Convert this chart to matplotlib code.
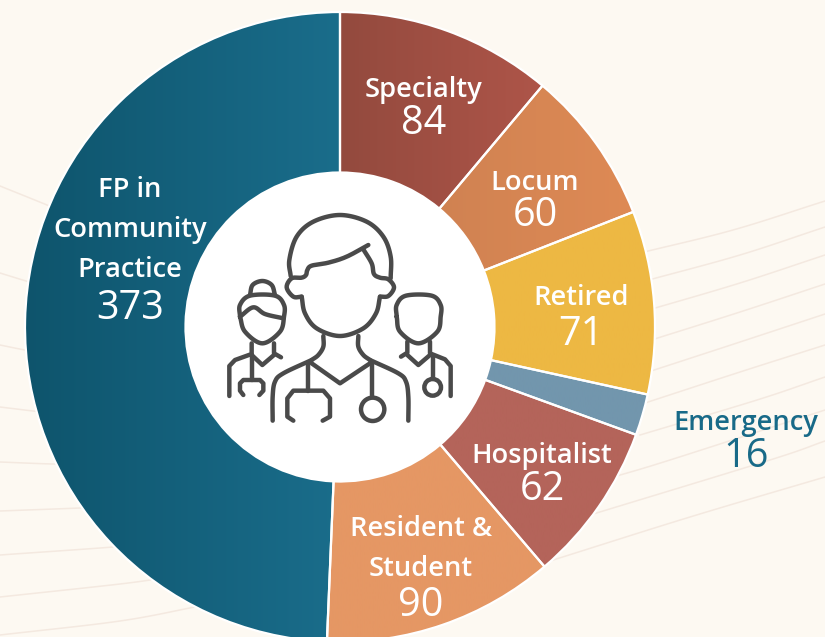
import matplotlib
matplotlib.use('Agg')
import matplotlib.pyplot as plt
import numpy as np
from matplotlib.colors import LinearSegmentedColormap
from matplotlib.patches import Circle

labels = ['Specialty', 'Locum', 'Retired', 'Emergency', 'Hospitalist', 'Resident &\nStudent', 'FP in\nCommunity\nPractice']
values = [84, 60, 71, 16, 62, 90, 373]
left_colors = ['#934a3e', '#c97e50', '#edb843', '#7296ad', '#b4645a', '#e59764', '#0e546c']
right_colors = ['#ae5549', '#de8a55', '#edb843', '#7296ad', '#b4645a', '#e59764', '#1a6d8b']
# baselines of the first label line and of the number
label_pos = [(424, 97), (535, 190), (581, 305), (746, 430), (542, 463), (421, 536), (130, 197)]
value_pos = [(424, 134), (535, 226), (581, 345), (746, 467), (542, 500), (421, 616), (130, 319)]

bg = '#fdf9f2'
white = '#ffffff'
teal = '#186a88'
icon_col = '#4a4a4a'
cx, cy, r_out, r_in = 340, 327, 315, 154.5

fig = plt.figure(figsize=(8.25, 6.37), dpi=100, facecolor=bg)
ax = fig.add_axes([0, 0, 1, 1])
ax.set_facecolor(bg)


def spline(pts, n=14):
    # catmull-rom through the points
    p = np.array(pts, dtype=float)
    p = np.vstack([2 * p[0] - p[1], p, 2 * p[-1] - p[-2]])
    out = []
    for i in range(1, len(p) - 2):
        t = np.linspace(0, 1, n)[:, None]
        a, b, c, d = p[i - 1], p[i], p[i + 1], p[i + 2]
        out.append(0.5 * (2 * b + (c - a) * t + (2 * a - 5 * b + 4 * c - d) * t ** 2 + (3 * b - a - 3 * c + d) * t ** 3))
    return np.vstack(out)


# faint background swooshes
swooshes = [
    [(0, 186), (47, 205), (70, 215)], [(0, 273), (26, 281), (50, 288)], [(0, 345), (25, 350), (50, 354)],
    [(0, 407), (33, 411), (60, 414)], [(0, 462), (53, 464), (90, 464)], [(0, 511), (80, 508), (120, 506)],
    [(0, 555), (113, 547), (150, 543)], [(0, 597), (120, 584), (170, 577)], [(0, 635), (120, 621), (200, 606)],
    [(640, 253), (733, 230), (825, 201)], [(645, 281), (740, 255), (825, 227)], [(645, 311), (740, 283), (825, 255)],
    [(645, 342), (740, 312), (825, 284)], [(645, 373), (740, 342), (825, 314)], [(645, 403), (740, 372), (825, 345)],
    [(640, 435), (757, 400), (825, 377)], [(610, 478), (670, 460), (825, 410)], [(590, 515), (770, 460), (825, 441)],
    [(550, 561), (690, 517), (825, 477)],
]
for s in swooshes:
    xy = spline(s)
    ax.plot(xy[:, 0], xy[:, 1], color='#f4e9e0', lw=1.1, zorder=1)

# donut, wedges filled with a left to right gradient (y axis is flipped, so counterclock here reads clockwise)
wedges, _ = ax.pie(values, startangle=270, counterclock=True, center=(cx, cy), radius=r_out, frame=True,
                   colors=left_colors, wedgeprops=dict(width=r_out - r_in, edgecolor='none'))
for w, c1, c2 in zip(wedges, left_colors, right_colors):
    w.set_zorder(2)
    verts = w.get_path().vertices
    x0, x1 = verts[:, 0].min(), verts[:, 0].max()
    cmap = LinearSegmentedColormap.from_list('g', [c1, c2])
    im = ax.imshow(np.linspace(0, 1, 256)[None, :], extent=(x0, x1, cy + r_out, cy - r_out), cmap=cmap,
                   aspect='auto', zorder=3)
    im.set_clip_path(w)

# white separators come from a second, unfilled pie
sep, _ = ax.pie(values, startangle=270, counterclock=True, center=(cx, cy), radius=r_out, frame=True,
                wedgeprops=dict(width=r_out - r_in, facecolor='none', edgecolor=white, linewidth=1.6))
for w in sep:
    w.set_zorder(4)

ax.add_patch(Circle((cx, cy), r_in, fc=white, ec='none', zorder=5))

for name, val, lp, vp in zip(labels, values, label_pos, value_pos):
    col = teal if name == 'Emergency' else white
    for i, line in enumerate(name.split('\n')):
        ax.text(lp[0], lp[1] + 40 * i, line, color=col, fontsize=19.6, family='Open Sans', fontweight='semibold',
                ha='center', va='baseline', zorder=6)
    ax.text(vp[0], vp[1], str(val), color=col, fontsize=28.5, family='Open Sans', ha='center', va='baseline', zorder=6)


# doctor icon, points are in 3x crop coordinates around (200, 200)
def stroke(pts, smooth=True):
    xy = spline(pts) if smooth else np.array(pts, dtype=float)
    ax.plot(xy[:, 0] / 3 + 200, xy[:, 1] / 3 + 200, color=icon_col, lw=3.2, solid_capstyle='round',
            solid_joinstyle='round', zorder=7)


def ring(x, y, r):
    ax.add_patch(Circle((x / 3 + 200, y / 3 + 200), r / 3, fc='none', ec=icon_col, lw=3.2, zorder=7))


# middle figure
stroke([(272, 228), (268, 180), (290, 110), (340, 65), (420, 45), (500, 65), (550, 110), (572, 170), (572, 235)])
stroke([(505, 135), (440, 170), (385, 188), (335, 197), (322, 210), (318, 225), (305, 233), (275, 235), (260, 262), (280, 290), (305, 290)])
stroke([(305, 290), (315, 340), (350, 385), (420, 408), (490, 385), (528, 340), (540, 290)])
stroke([(540, 290), (565, 288), (582, 262), (565, 238), (540, 233), (522, 222), (515, 190), (490, 148)])
stroke([(370, 408), (370, 440), (355, 465), (335, 480)])
stroke([(335, 480), (250, 520), (225, 545), (218, 590), (218, 662)])
stroke([(475, 408), (475, 440), (490, 465), (510, 480)])
stroke([(510, 480), (595, 520), (618, 545), (625, 590), (625, 662)])
stroke([(335, 490), (420, 550), (510, 490)], smooth=False)
stroke([(325, 490), (325, 572)], smooth=False)
stroke([(280, 662), (262, 650), (262, 595), (280, 572), (370, 572), (390, 595), (390, 650), (368, 662)], smooth=False)
stroke([(515, 490), (515, 592)], smooth=False)
ring(518, 628, 35)
# left figure
stroke([(150, 285), (158, 255), (187, 243), (215, 255), (225, 285)])
stroke([(120, 350), (120, 315), (150, 287), (225, 287), (252, 315), (252, 350), (240, 395), (187, 430), (135, 395), (120, 350)])
stroke([(120, 350), (160, 322), (195, 342), (250, 355)])
stroke([(155, 430), (155, 462), (105, 480), (88, 498), (88, 588)], smooth=False)
stroke([(222, 430), (222, 460), (243, 472)], smooth=False)
stroke([(155, 465), (187, 495), (222, 465)], smooth=False)
stroke([(155, 465), (155, 540)], smooth=False)
stroke([(130, 585), (120, 572), (120, 550), (130, 540), (180, 540), (190, 550), (190, 572), (178, 585)], smooth=False)
# right figure
stroke([(590, 350), (590, 315), (618, 287), (695, 287), (722, 315), (722, 350), (712, 395), (655, 430), (600, 395), (590, 350)])
stroke([(622, 425), (622, 458), (603, 470)], smooth=False)
stroke([(690, 425), (690, 460), (735, 478), (752, 498), (752, 588)], smooth=False)
stroke([(622, 465), (655, 495), (690, 465)], smooth=False)
stroke([(698, 470), (698, 537)], smooth=False)
ring(698, 562, 25)

ax.set_xlim(0, 825)
ax.set_ylim(637, 0)
ax.set_aspect('auto')
ax.axis('off')

fig.savefig('out.png', dpi=100, facecolor=bg)
